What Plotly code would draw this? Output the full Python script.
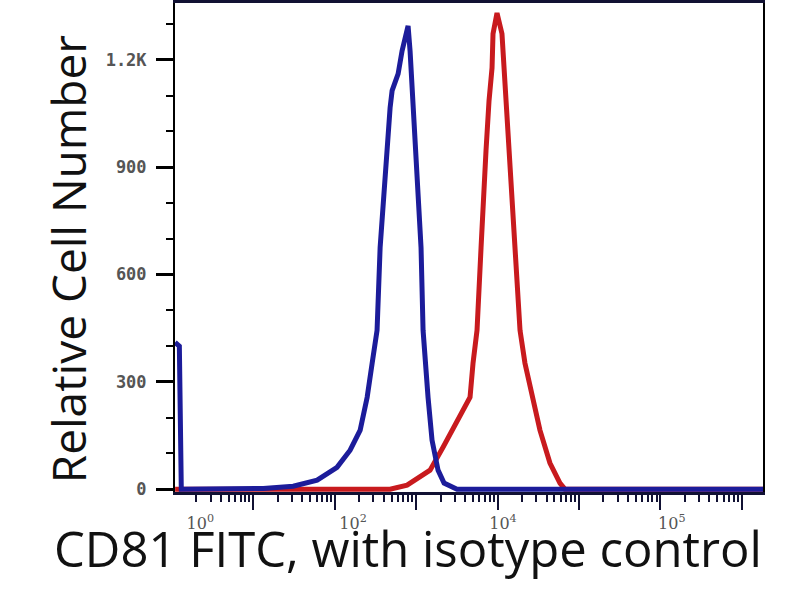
import plotly.graph_objects as go

# Isotype control (blue) histogram: fluorescence intensity vs relative cell count
iso_x = [1.10, 1.24, 1.31, 2.24, 6.9, 13.3, 31.0, 61.0, 107, 155, 206, 251, 289, 332, 362, 394, 441,
         480, 508, 602, 673, 798, 844, 918, 1000, 1089, 1151, 1219, 1289, 1403, 1571, 1862, 2207,
         3186, 1.0e5, 1.9e7]
iso_y = [410, 400, 0, 0, 0, 2, 8, 25, 61, 109, 165, 257, 352, 444, 675, 807, 946,
         1066, 1114, 1161, 1225, 1295, 1225, 1086, 946, 807, 675, 444, 352, 257, 137, 53, 17,
         0, 0, 0]

# CD81 FITC stained (red) histogram
cd81_x = [1.10, 200, 480, 776, 1486, 2144, 3186, 4600, 5005, 5603, 6280, 6640, 7226, 7870, 8570,
          8810, 9860, 11350, 12360, 13460, 15070, 16400, 18900, 21740, 26490, 33190, 44040,
          58440, 67300, 1.9e7]
cd81_y = [0, 0, 0, 11, 53, 117, 193, 257, 352, 444, 675, 807, 946, 1086, 1178,
          1273, 1331, 1273, 1133, 994, 854, 714, 444, 352, 257, 165, 73,
          17, 0, 0]

y_tick_vals = [0, 300, 600, 900, 1200]
y_tick_text = ["0", "300", "600", "900", "1.2K"]
y_minor_vals = [100, 200, 400, 500, 700, 800, 1000, 1100, 1300]

x_major_vals = [10 ** k for k in range(1, 8)]
x_minor_vals = [m * 10 ** k for k in range(0, 8) for m in range(2, 10)]
x_label_vals = [2.24, 168.6, 11670, 1.38e6]
x_label_text = ["10<sup>0</sup>", "10<sup>2</sup>", "10<sup>4</sup>", "10<sup>5</sup>"]

x_range_log = [0.04, 7.26]

fig = go.Figure()
fig.add_trace(go.Scatter(x=cd81_x, y=cd81_y, mode="lines",
                         line=dict(color="#c81a1e", width=5), showlegend=False))
fig.add_trace(go.Scatter(x=iso_x, y=iso_y, mode="lines",
                         line=dict(color="#1c1c9a", width=5), showlegend=False))
# invisible trace to carry the label axis
fig.add_trace(go.Scatter(x=[x_label_vals[0]], y=[0], xaxis="x2", mode="markers",
                         marker=dict(opacity=0), showlegend=False, hoverinfo="skip"))

fig.update_layout(
    width=800, height=600,
    paper_bgcolor="white", plot_bgcolor="white",
    margin=dict(l=175, r=37, t=3, b=108, autoexpand=False),
    xaxis=dict(type="log", range=x_range_log, showgrid=False, zeroline=False, automargin=False,
               showline=True, linecolor="#111133", linewidth=3, mirror=True,
               ticks="outside", tickvals=x_major_vals, ticklen=15, tickwidth=2,
               tickcolor="#111133", showticklabels=False,
               minor=dict(ticks="outside", tickvals=x_minor_vals, ticklen=7,
                          tickwidth=1.5, tickcolor="#111133")),
    xaxis2=dict(type="log", range=x_range_log, overlaying="x", anchor="y", side="bottom",
                showgrid=False, zeroline=False, showline=False, automargin=False,
                ticks="outside", ticklen=17, tickcolor="rgba(0,0,0,0)",
                tickvals=x_label_vals, ticktext=x_label_text,
                tickfont=dict(family="DejaVu Serif", size=16, color="#555555")),
    yaxis=dict(range=[-8, 1359], showgrid=False, zeroline=False, automargin=False,
               showline=True, linecolor="black", linewidth=2, mirror=True,
               ticks="outside", tickvals=y_tick_vals, ticktext=y_tick_text,
               ticklen=17, tickwidth=3, tickcolor="black", ticklabelstandoff=6,
               tickfont=dict(family="DejaVu Sans Mono", size=17, color="#555555", weight="bold"),
               minor=dict(ticks="outside", tickvals=y_minor_vals, ticklen=7,
                          tickwidth=2, tickcolor="black")),
    annotations=[
        dict(text="Relative Cell Number", xref="paper", yref="paper",
             x=-0.182, y=0.478, xanchor="center", yanchor="middle", textangle=-90,
             showarrow=False, font=dict(family="Open Sans", size=46, color="#111111")),
        dict(text="CD81 FITC, with isotype control", xref="paper", yref="paper",
             x=0.396, y=-0.114, xanchor="center", yanchor="middle",
             showarrow=False, font=dict(family="Open Sans", size=49, color="#111111")),
    ],
)

fig.write_html("out.html", config={"displayModeBar": False},
               post_script="document.body.style.margin='0px';")
